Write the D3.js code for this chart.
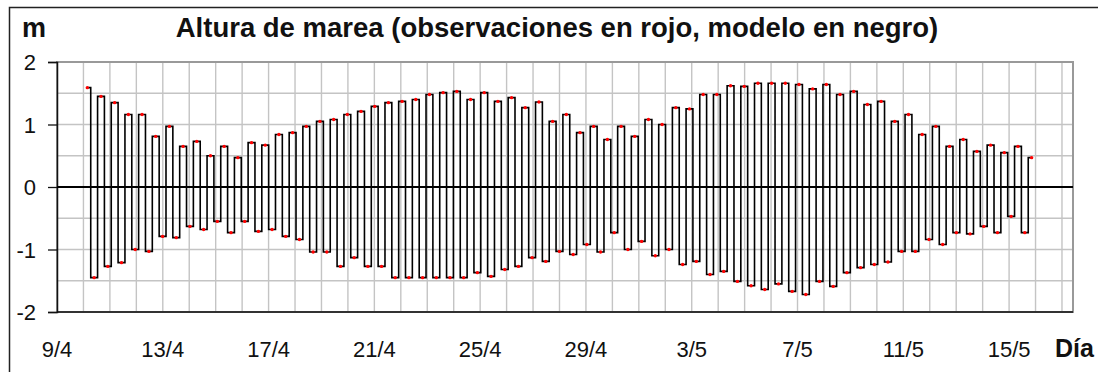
<!DOCTYPE html>
<html>
<head>
<meta charset="utf-8">
<script src="https://cdn.jsdelivr.net/npm/d3@7"></script>
<style>
  body { margin: 0; background: #fff; }
  svg { display: block; font-family: Arial, "Liberation Sans", sans-serif; }
</style>
</head>
<body>
<div id="chart"></div>
<script>
// tide extremes, alternating high / low (m)
var highs = [1.59, 1.45, 1.35, 1.16, 1.16, 0.81, 0.97, 0.65, 0.73, 0.50,
             0.65, 0.47, 0.71, 0.67, 0.84, 0.87, 0.97, 1.05, 1.08, 1.16,
             1.21, 1.29, 1.35, 1.37, 1.40, 1.48, 1.51, 1.53, 1.40, 1.51,
             1.37, 1.43, 1.27, 1.36, 1.05, 1.16, 0.87, 0.97, 0.76, 0.97,
             0.81, 1.08, 1.00, 1.27, 1.25, 1.48, 1.48, 1.62, 1.61, 1.66,
             1.66, 1.66, 1.64, 1.57, 1.64, 1.48, 1.53, 1.32, 1.37, 1.05,
             1.16, 0.84, 0.97, 0.65, 0.76, 0.57, 0.67, 0.55, 0.65];
var lows = [-1.45, -1.27, -1.21, -1.00, -1.03, -0.79, -0.81, -0.63, -0.68, -0.55,
            -0.73, -0.55, -0.71, -0.68, -0.79, -0.84, -1.04, -1.04, -1.27, -1.13,
            -1.27, -1.27, -1.45, -1.45, -1.45, -1.45, -1.45, -1.45, -1.37, -1.43,
            -1.32, -1.27, -1.13, -1.19, -1.03, -1.08, -0.92, -1.04, -0.73, -1.00,
            -0.87, -1.10, -1.00, -1.24, -1.19, -1.40, -1.35, -1.51, -1.58, -1.64,
            -1.55, -1.67, -1.72, -1.51, -1.59, -1.37, -1.29, -1.24, -1.20, -1.03,
            -1.03, -0.84, -0.92, -0.73, -0.75, -0.63, -0.73, -0.47, -0.73];
var lastValue = 0.47;

var firstHigh = new Date(2010, 3, 10, 3, 30);
var halfPeriodHours = 6.21;

var yTicks = [-2, -1, 0, 1, 2];
var xLabelDays = ['9/4', '13/4', '17/4', '21/4', '25/4', '29/4', '3/5', '7/5', '11/5', '15/5'];

var W = 1098, H = 372;
var plot = {left: 57, right: 1073, top: 62, bottom: 312};

var svg = d3.select('#chart').append('svg')
    .attr('width', W)
    .attr('height', H);

// outer frame
svg.append('rect')
    .attr('x', 9.5).attr('y', 7.5)
    .attr('width', W + 10).attr('height', H + 10)
    .attr('fill', 'none')
    .attr('stroke', '#222')
    .attr('stroke-width', 1.5);

var x = d3.scaleTime()
    .domain([new Date(2010, 3, 9), new Date(2010, 4, 17, 10)])
    .range([plot.left, plot.right]);

var y = d3.scaleLinear()
    .domain([-2, 2])
    .range([plot.bottom, plot.top]);

// series built from the arrays
var series = [];
highs.forEach(function(h, i) {
    series.push({t: d3.timeMinute.offset(firstHigh, Math.round(2 * i * halfPeriodHours * 60)), v: h});
    series.push({t: d3.timeMinute.offset(firstHigh, Math.round((2 * i + 1) * halfPeriodHours * 60)), v: lows[i]});
});
series.push({t: d3.timeMinute.offset(firstHigh, Math.round(2 * highs.length * halfPeriodHours * 60)), v: lastValue});

// grid
var grid = svg.append('g');
grid.selectAll('line.v')
    .data(d3.timeDay.range(d3.timeDay.offset(x.domain()[0], 1), x.domain()[1]))
    .enter().append('line')
    .attr('x1', function(d) { return x(d); })
    .attr('x2', function(d) { return x(d); })
    .attr('y1', plot.top).attr('y2', plot.bottom)
    .attr('stroke', '#c4c4c4')
    .attr('stroke-width', 1.4);

grid.selectAll('line.h')
    .data(d3.range(-1.5, 2.01, 0.5))
    .enter().append('line')
    .attr('x1', plot.left).attr('x2', plot.right)
    .attr('y1', function(d) { return y(d); })
    .attr('y2', function(d) { return y(d); })
    .attr('stroke', '#c4c4c4')
    .attr('stroke-width', 1.4);

// plot frame (right + top gray)
svg.append('rect')
    .attr('x', plot.left).attr('y', plot.top)
    .attr('width', plot.right - plot.left).attr('height', plot.bottom - plot.top)
    .attr('fill', 'none')
    .attr('stroke', '#999')
    .attr('stroke-width', 2);

// y axis
var yAxis = d3.axisLeft(y)
    .tickValues(yTicks)
    .tickSize(9)
    .tickPadding(12)
    .tickFormat(function(d) { return String(d); });

var yg = svg.append('g')
    .attr('transform', 'translate(' + plot.left + ',0)')
    .call(yAxis);
yg.select('.domain').attr('stroke', '#111').attr('stroke-width', 1.5);
yg.selectAll('.tick line').attr('stroke', '#111').attr('stroke-width', 1.3);
yg.selectAll('.tick text')
    .attr('font-size', 22)
    .attr('fill', '#111')
    .attr('dy', '0.36em');

// x axis line and labels
svg.append('line')
    .attr('x1', plot.left).attr('x2', plot.right)
    .attr('y1', plot.bottom).attr('y2', plot.bottom)
    .attr('stroke', '#111').attr('stroke-width', 1.5);

var parseLabel = function(s) {
    var p = s.split('/');
    return new Date(2010, +p[1] - 1, +p[0]);
};

svg.selectAll('text.xl')
    .data(xLabelDays)
    .enter().append('text')
    .attr('x', function(d) { return x(parseLabel(d)); })
    .attr('y', 357)
    .attr('text-anchor', 'middle')
    .attr('font-size', 22)
    .attr('fill', '#111')
    .text(function(d) { return d; });

svg.append('text')
    .attr('x', 1055).attr('y', 357)
    .attr('font-size', 25)
    .attr('font-weight', 'bold')
    .attr('fill', '#111')
    .text('Día');

// zero line
svg.append('line')
    .attr('x1', plot.left).attr('x2', plot.right)
    .attr('y1', y(0)).attr('y2', y(0))
    .attr('stroke', '#000').attr('stroke-width', 2);

// model
var line = d3.line()
    .x(function(d) { return x(d.t); })
    .y(function(d) { return y(d.v); })
    .curve(d3.curveStep);

svg.append('path')
    .attr('d', line(series))
    .attr('fill', 'none')
    .attr('stroke', '#000')
    .attr('stroke-width', 1.6);

// observations
svg.selectAll('circle.obs')
    .data(series)
    .enter().append('circle')
    .attr('cx', function(d) { return x(d.t); })
    .attr('cy', function(d) { return y(d.v); })
    .attr('r', 1.7)
    .attr('fill', '#ff0000');

// titles
svg.append('text')
    .attr('x', 22).attr('y', 37)
    .attr('font-size', 27)
    .attr('font-weight', 'bold')
    .attr('fill', '#111')
    .text('m');

svg.append('text')
    .attr('x', 557).attr('y', 37)
    .attr('text-anchor', 'middle')
    .attr('font-size', 27.5)
    .attr('font-weight', 'bold')
    .attr('fill', '#111')
    .text('Altura de marea (observaciones en rojo, modelo en negro)');
</script>
</body>
</html>
